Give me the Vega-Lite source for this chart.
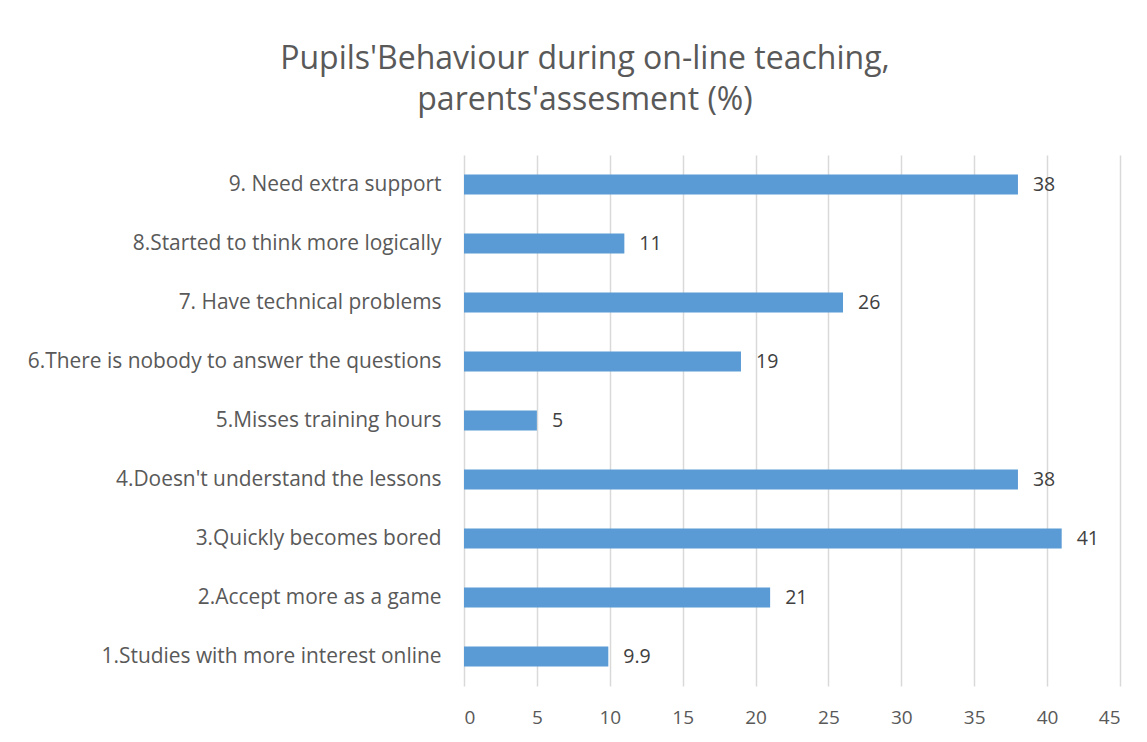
{
  "$schema": "https://vega.github.io/schema/vega-lite/v6.json",
  "autosize": "none",
  "width": 656,
  "height": 531,
  "padding": {"left": 464, "top": 155, "right": 27, "bottom": 56},
  "background": "white",
  "title": {
    "text": ["Pupils'Behaviour during on-line teaching,", "parents'assesment (%)"],
    "font": "Open Sans",
    "fontSize": 32,
    "fontWeight": "normal",
    "color": "#595959",
    "lineHeight": 41,
    "anchor": "middle",
    "dx": -207,
    "offset": 38
  },
  "data": {
    "values": [
      {"item": "9. Need extra support ", "value": 38},
      {"item": "8.Started to think more logically", "value": 11},
      {"item": "7. Have technical problems ", "value": 26},
      {"item": "6.There is nobody to answer the questions", "value": 19},
      {"item": "5.Misses training hours", "value": 5},
      {"item": "4.Doesn't understand the lessons", "value": 38},
      {"item": "3.Quickly becomes bored", "value": 41},
      {"item": "2.Accept more as a game", "value": 21},
      {"item": "1.Studies with more interest online", "value": 9.9}
    ]
  },
  "encoding": {
    "y": {
      "field": "item",
      "type": "nominal",
      "sort": null,
      "title": null,
      "scale": {"paddingInner": 0.66, "paddingOuter": 0.33},
      "axis": {
        "domain": false,
        "ticks": false,
        "grid": false,
        "labelFont": "Open Sans",
        "labelFontSize": 20.9,
        "labelColor": "#595959",
        "labelPadding": 23,
        "labelLimit": 600
      }
    },
    "x": {
      "field": "value",
      "type": "quantitative",
      "title": null,
      "scale": {"domain": [0, 45], "nice": false},
      "axis": {
        "values": [0, 5, 10, 15, 20, 25, 30, 35, 40, 45],
        "domain": false,
        "ticks": false,
        "grid": true,
        "gridColor": "#d9d9d9",
        "gridWidth": 1.5,
        "labelFont": "Open Sans",
        "labelFontSize": 19,
        "labelColor": "#595959",
        "labelPadding": 22
      }
    }
  },
  "layer": [
    {"mark": {"type": "bar", "color": "#5B9BD5"}},
    {
      "mark": {"type": "text", "align": "left", "dx": 15, "font": "Open Sans", "fontSize": 19.5, "color": "#404040"},
      "encoding": {"text": {"field": "value", "type": "quantitative"}}
    }
  ],
  "config": {"view": {"stroke": null}}
}
